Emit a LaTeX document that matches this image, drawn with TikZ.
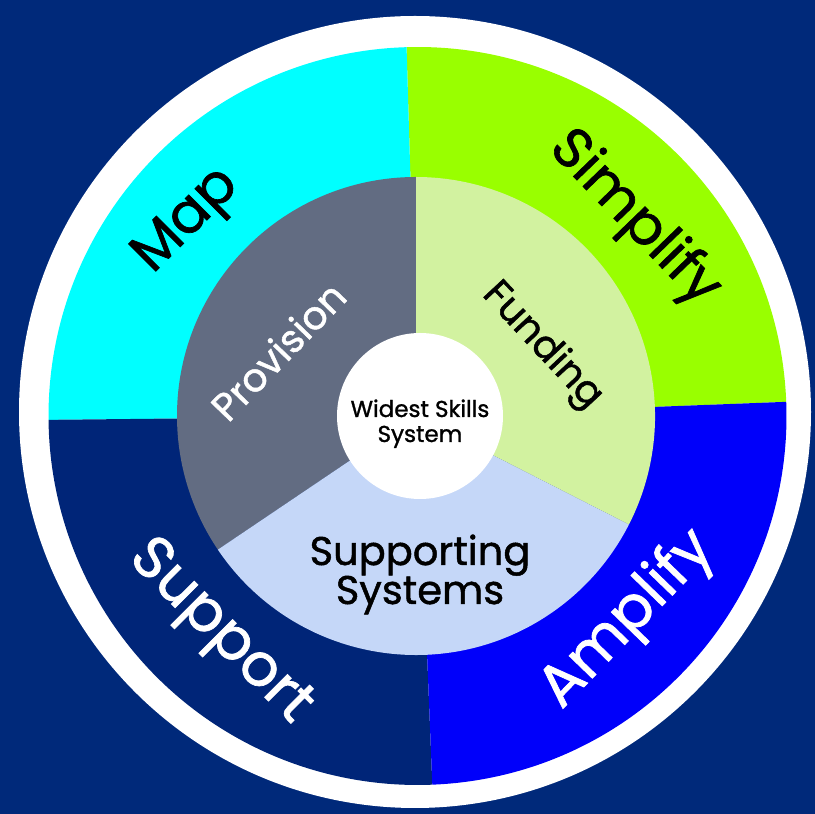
\documentclass[tikz,border=0pt]{standalone}
\usepackage{fontspec}
\setmainfont{Poppins}
\newfontfamily\medfont{Poppins}[FakeBold=1.2]
\definecolor{bgnavy}{RGB}{0,41,122}
\definecolor{supnavy}{RGB}{0,37,120}
\definecolor{mapcyan}{RGB}{0,255,255}
\definecolor{simplime}{RGB}{153,255,0}
\definecolor{ampblue}{RGB}{0,0,250}
\definecolor{provgrey}{RGB}{98,108,130}
\definecolor{fundgreen}{RGB}{210,242,160}
\definecolor{suppblue}{RGB}{197,215,248}
\tikzset{
  bigword/.style={font=\medfont\fontsize{56}{56}\selectfont, inner sep=0pt},
  hugeword/.style={font=\medfont\fontsize{59}{59}\selectfont, inner sep=0pt},
  midword/.style={font=\medfont\fontsize{39}{39}\selectfont, inner sep=0pt},
  suppword/.style={font=\medfont\fontsize{40}{40}\selectfont, inner sep=0pt, anchor=base},
  coreword/.style={font=\medfont\fontsize{23}{23}\selectfont, inner sep=0pt, anchor=base},
}
\begin{document}
\begin{tikzpicture}[x=1pt,y=1pt]
\fill[bgnavy] (0,0) rectangle (815,814);
\useasboundingbox (0,0) rectangle (815,814);
% white outer disk
\fill[white] (415,402) circle[radius=396];
% outer quadrants
\coordinate (oc) at (417.5,398);
\fill[simplime] (oc) -- ++(2.2:369) arc[start angle=2.2, end angle=91.7, radius=369] -- cycle;
\fill[mapcyan] (oc) -- ++(91.7:369) arc[start angle=91.7, end angle=180.6, radius=369] -- cycle;
\fill[supnavy] (oc) -- ++(180.6:369) arc[start angle=180.6, end angle=272.3, radius=369] -- cycle;
\fill[ampblue] (oc) -- ++(272.3:369) arc[start angle=272.3, end angle=362.2, radius=369] -- cycle;
% inner sectors
\coordinate (ic) at (416,398);
\fill[provgrey] (ic) -- ++(90:239) arc[start angle=90, end angle=214, radius=239] -- cycle;
\fill[suppblue] (ic) -- ++(214:239) arc[start angle=214, end angle=333, radius=239] -- cycle;
\fill[fundgreen] (ic) -- ++(333:239) arc[start angle=333, end angle=450, radius=239] -- cycle;
% centre
\fill[white] (420,398) circle[radius=83];
% labels
\node[bigword, rotate=45] (map) at (188,592) {Map};
\node[bigword, rotate=-46] (simplify) at (634,595) {Simplify};
\node[hugeword, rotate=46, text=white] (amplify) at (628,194) {Amplify};
\node[hugeword, rotate=-45, text=white] (support) at (219,181) {Support};
\node[midword, rotate=46, text=white] (provision) at (278,463) {Provision};
\node[midword, rotate=-47] (funding) at (542,468) {Funding};
\node[suppword] (supp1) at (420,249) {Supporting};
\node[suppword] (supp2) at (420,210) {Systems};
\node[coreword] (core1) at (420,397) {Widest Skills};
\node[coreword] (core2) at (420,372) {System};
\end{tikzpicture}
\end{document}
